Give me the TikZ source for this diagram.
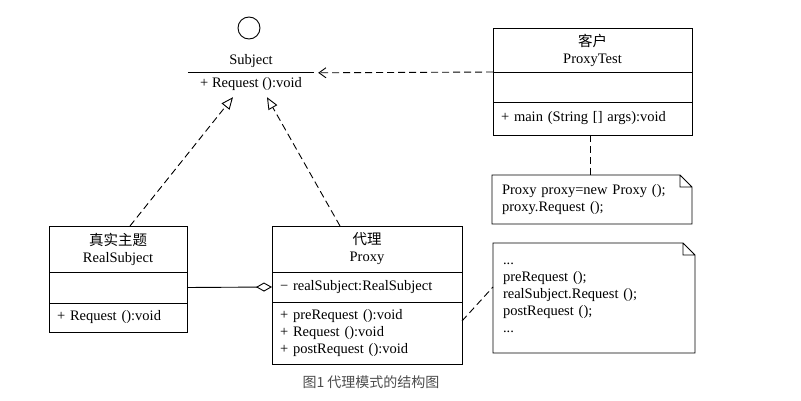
\documentclass[tikz,border=0pt]{standalone}
\usepackage{fontspec}
\setmainfont{Liberation Serif}
\newfontfamily\cjk{Noto Sans CJK SC}
\usetikzlibrary{arrows.meta,positioning}

\tikzset{
  cls/.style={draw,line width=0.9pt,inner xsep=8pt,inner ysep=0pt,outer sep=0pt,align=center},
  memb/.style={cls,align=left},
  dep/.style={line width=0.9pt,dash pattern=on 7pt off 4pt},
  notebox/.style={inner xsep=10pt,inner ysep=0pt,outer sep=0pt,align=left},
}

\begin{document}
\begin{tikzpicture}[x=1pt,y=-1pt,font=\fontsize{14.5}{17}\selectfont]
    \useasboundingbox (0,0) rectangle (801,401);
    % interface
    \node[circle,draw,line width=0.9pt,minimum size=22pt,inner sep=0pt] (subjC) at (249,28) {};
    \node (subjN) at (251,61) {Subject};
    \node[minimum width=126pt,minimum height=22pt,inner sep=0pt] (subjM) at (251,84) {+ Request ():void};
    \draw[line width=0.9pt] (subjM.north west) -- (subjM.north east);
    \coordinate (subjL) at ([xshift=-18pt,yshift=-2pt]subjM.south);
    \coordinate (subjR) at ([xshift=16pt,yshift=-2pt]subjM.south);
    % real subject
    \node[cls,text width=122pt,minimum height=46pt,anchor=north] (realN) at (118,226) {{\cjk 真实主题}\\RealSubject};
    \node[memb,text width=122pt,minimum height=31pt,below=0pt of realN] (realA) {};
    \node[memb,text width=122pt,minimum height=29pt,below=0pt of realA] (realM) {+ Request ():void};
    % proxy
    \node[cls,text width=174pt,minimum height=46pt,anchor=north] (proxyN) at (367,226) {{\cjk 代理}\\Proxy};
    \node[memb,text width=174pt,minimum height=30pt,below=0pt of proxyN] (proxyA) {− realSubject:RealSubject};
    \node[memb,text width=174pt,minimum height=62pt,below=0pt of proxyA] (proxyM) {+ preRequest ():void\\+ Request ():void\\+ postRequest ():void};
    % client
    \node[cls,text width=183pt,minimum height=44pt,anchor=north] (clientN) at (592.5,28) {{\cjk 客户}\\ProxyTest};
    \node[memb,text width=183pt,minimum height=30pt,below=0pt of clientN] (clientA) {};
    \node[memb,text width=183pt,minimum height=33pt,below=0pt of clientA] (clientM) {+ main (String [] args):void};
    % notes
    \node[notebox,text width=180pt,minimum height=49pt,anchor=north west] (noteA) at (492,175) {Proxy proxy=new Proxy ();\\proxy.Request ();};
    \draw[line width=0.9pt] (noteA.north west) -- ([xshift=-12pt]noteA.north east) -- ([yshift=-12pt]noteA.north east) -- (noteA.south east) -- (noteA.south west) -- cycle
        ([xshift=-12pt]noteA.north east) |- ([yshift=-12pt]noteA.north east);
    \node[notebox,text width=182pt,minimum height=110pt,anchor=north west] (noteB) at (493,243) {...\\preRequest ();\\realSubject.Request ();\\postRequest ();\\...};
    \draw[line width=0.9pt] (noteB.north west) -- ([xshift=-12pt]noteB.north east) -- ([yshift=-12pt]noteB.north east) -- (noteB.south east) -- (noteB.south west) -- cycle
        ([xshift=-12pt]noteB.north east) |- ([yshift=-12pt]noteB.north east);
    % connectors
    \draw[dep,-{Triangle[open,length=12pt,width=10pt]}] ([xshift=12pt]realN.north) -- (subjL);
    \draw[dep,-{Triangle[open,length=12pt,width=10pt]}] ([xshift=-27pt]proxyN.north) -- (subjR);
    \draw[dep,-{Straight Barb[length=7pt,width=10pt]}] (clientN.south west) -- ([xshift=4pt]subjM.north east);
    \draw[line width=0.9pt,-{Diamond[open,length=16pt,width=9pt]}] (realA.east) -- (proxyA.west);
    \draw[dep] ([xshift=-2pt]clientM.south) -- ([xshift=-2pt]clientM.south |- noteA.north);
    \draw[dep] ([yshift=12pt]proxyM.east) -- ([yshift=11pt]noteB.west);
    % caption
    \node[font=\cjk\fontsize{14}{16}\selectfont,text=black!70] (cap) at (371,382) {图1 代理模式的结构图};
\end{tikzpicture}
\end{document}
